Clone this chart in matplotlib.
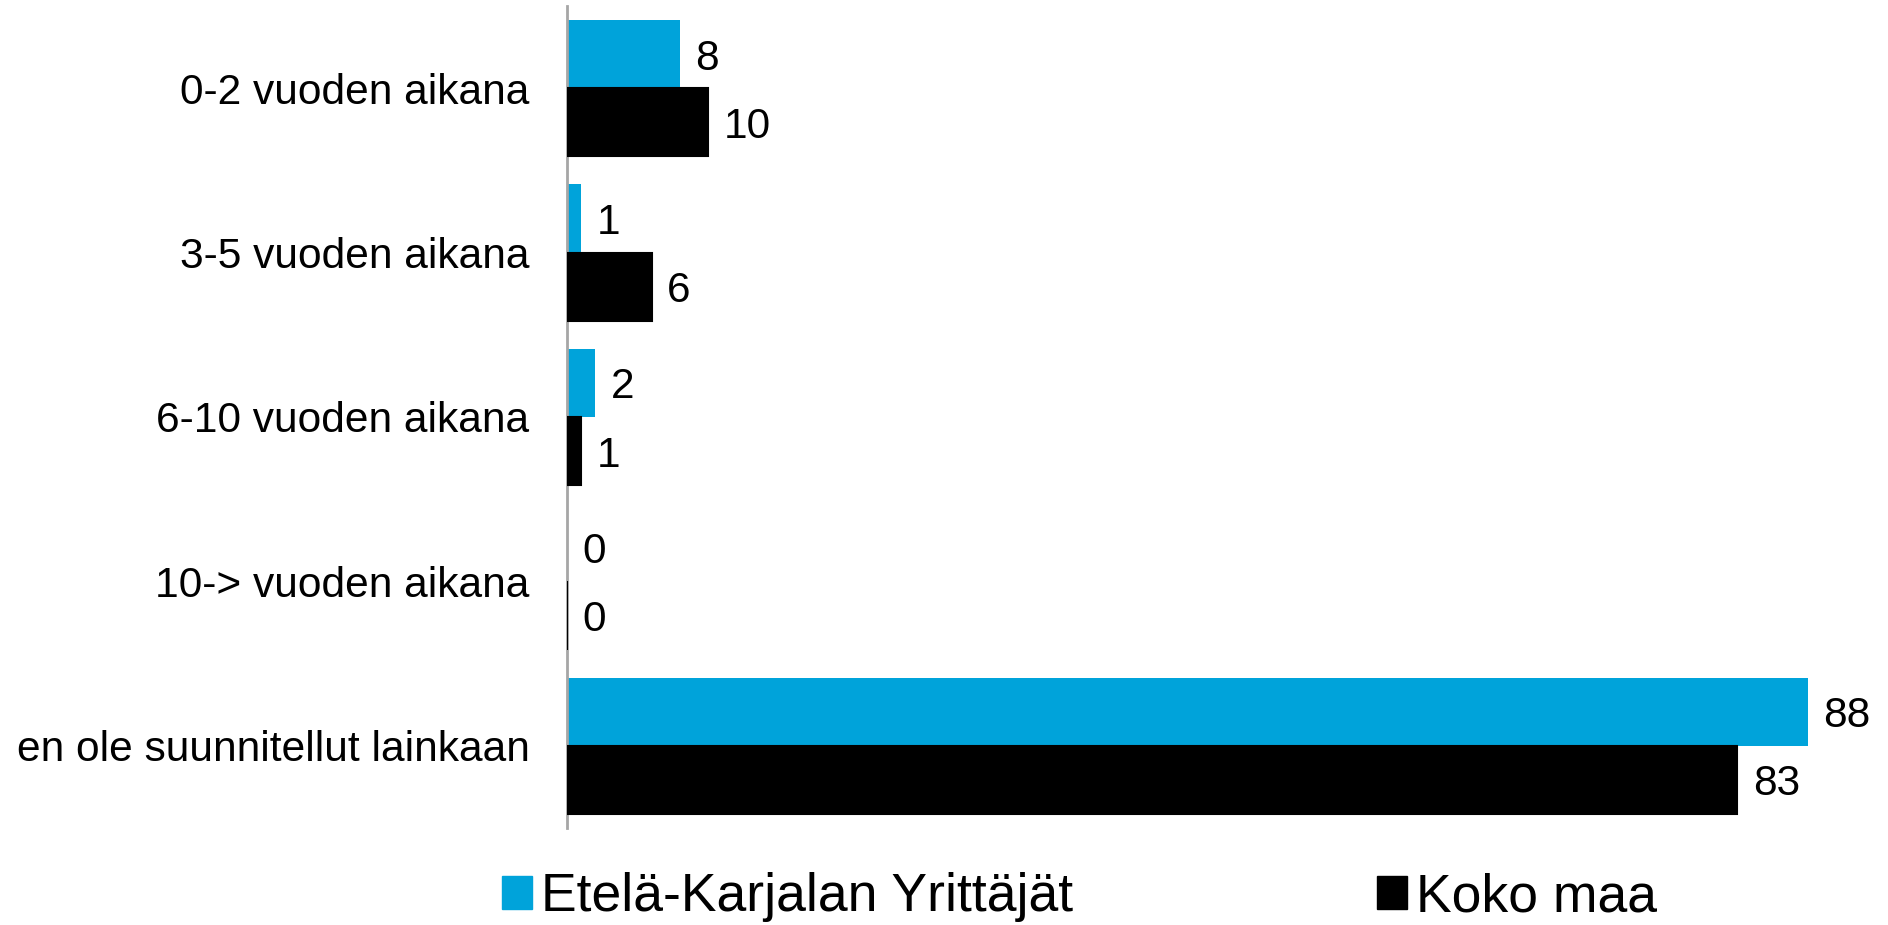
import matplotlib.pyplot as plt
import numpy as np
from matplotlib.patches import Patch

plt.rcParams['font.family'] = ['Liberation Sans', 'DejaVu Sans']

categories = ['0-2 vuoden aikana', '3-5 vuoden aikana', '6-10 vuoden aikana',
              '10-> vuoden aikana', 'en ole suunnitellut lainkaan']
etela_karjala = [8, 1, 2, 0, 88]
koko_maa = [10, 6, 1, 0, 83]
series_names = ['Etelä-Karjalan Yrittäjät', 'Koko maa']

blue = '#00A3DA'
black = '#000000'

fig = plt.figure(figsize=(18.88, 9.25), dpi=100)
ax = fig.add_axes([0.3003, 0.1049, 0.6722, 0.8886])

y = np.arange(len(categories))
h = 0.415
b1 = ax.barh(y - h / 2, etela_karjala, height=h, color=blue, linewidth=0)
b2 = ax.barh(y + h / 2, koko_maa, height=h, color=black, edgecolor=black,
             linewidth=1.5, zorder=3)

# value labels just right of each bar
for bars, vals in ((b1, etela_karjala), (b2, koko_maa)):
    for bar, v in zip(bars, vals):
        ax.text(bar.get_width() + 1.1, bar.get_y() + bar.get_height() / 2, str(v),
                va='center_baseline', ha='left', fontsize=30.5)

ax.set_xlim(0, 90)
ax.set_ylim(len(categories) - 0.5, -0.5)
ax.set_yticks(y)
ax.set_yticklabels(categories, fontsize=30.6)
ax.set_xticks([])
ax.tick_params(axis='y', length=0, pad=27)
for s in ('top', 'right', 'bottom'):
    ax.spines[s].set_visible(False)
ax.spines['left'].set_color('#A6A6A6')
ax.spines['left'].set_linewidth(2)

handles = [Patch(color=blue), Patch(color=black)]
fig.legend(handles, series_names, loc='center', bbox_to_anchor=(0.5718, 0.03),
           ncol=2, frameon=False, fontsize=38.5, handlelength=0.56, handleheight=0.56,
           handletextpad=0.18, columnspacing=5.67)

fig.savefig('out.png', dpi=100)
